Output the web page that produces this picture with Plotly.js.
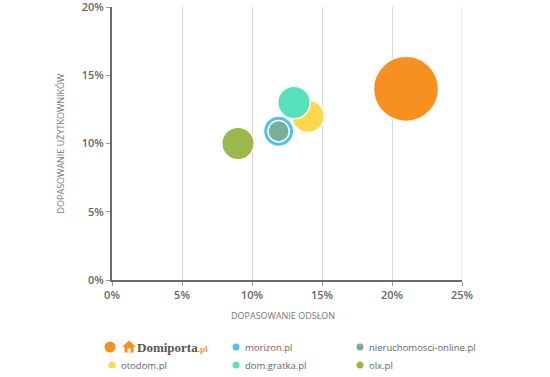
<!DOCTYPE html>
<html>
<head>
<meta charset="utf-8">
<script src="https://cdn.plot.ly/plotly-3.0.1.min.js"></script>
<style>html,body{margin:0;padding:0;background:#fff;}#chart{width:550px;height:377px;}</style>
</head>
<body>
<div id="chart"></div>
<script>
// ---- data ----
const sites = ['Domiporta.pl', 'morizon.pl', 'nieruchomosci-online.pl', 'otodom.pl', 'dom.gratka.pl', 'olx.pl'];
const dopasowanieOdslon = [21, 11.9, 11.9, 14, 13, 9];          // x, %
const dopasowanieUzytkownikow = [14, 10.9, 10.9, 12, 13, 10];   // y, %
const wielkosc = [4, 0.87, 0.43, 1, 1, 1];                      // relative bubble size
const xTicks = [0, 5, 10, 15, 20, 25];
const yTicks = [0, 5, 10, 15, 20];
const tickText = v => v + '%';

// ---- styles ----
const colors = ['#F7901E', '#4FC3F0', '#7AAE9A', '#FCD84A', '#58E0BA', '#9AB84B'];
const drawOrder = [0, 3, 4, 5, 1, 2];

const W = 550, H = 377;
const M = {l: 112, r: 88, t: 7, b: 97};
const PW = W - M.l - M.r, PH = H - M.t - M.b;
const px = x => (x - M.l) / PW;
const py = y => (H - M.b - y) / PH;

const traces = drawOrder.map(i => ({
  type: 'scatter',
  mode: 'markers',
  name: sites[i],
  x: [dopasowanieOdslon[i]],
  y: [dopasowanieUzytkownikow[i]],
  marker: {
    color: colors[i],
    size: [wielkosc[i]],
    sizemode: 'area',
    sizeref: 1 / 529,
    line: {color: '#ffffff', width: 1.5},
    opacity: 1
  },
  hoverinfo: 'name+x+y',
  showlegend: false
}));

// ---- manual legend ----
const shapes = [];
const annotations = [];
const colX = [112, 236, 360];
const rowY = [347, 365];

// last gridline at the right edge of the plot
shapes.push({type: 'line', xref: 'x', yref: 'paper', x0: xTicks[xTicks.length - 1], x1: xTicks[xTicks.length - 1],
  y0: 0, y1: 1, line: {color: '#d6d6d6', width: 1}, layer: 'below'});

sites.forEach((s, i) => {
  const c = i % 3, r = Math.floor(i / 3);
  const cx = colX[c] - (i === 0 ? 2 : 0), cy = rowY[r];
  const rad = i === 0 ? 5.5 : 3.5;
  shapes.push({type: 'circle', xref: 'paper', yref: 'paper',
    x0: px(cx - rad), x1: px(cx + rad), y0: py(cy + rad), y1: py(cy - rad),
    fillcolor: colors[i], line: {width: 0}});
  if (i === 0) {
    // house icon
    const hx = 122, hy = 340;
    const p = (a, b) => px(hx + a) + ',' + py(hy + b);
    shapes.push({type: 'path', xref: 'paper', yref: 'paper',
      path: 'M' + p(0, 7) + ' L' + p(7, 0.5) + ' L' + p(14, 7) + ' L' + p(11.5, 7) + ' L' + p(11.5, 12.5) +
            ' L' + p(2.5, 12.5) + ' L' + p(2.5, 7) + ' Z',
      fillcolor: colors[0], line: {width: 0}});
    shapes.push({type: 'rect', xref: 'paper', yref: 'paper',
      x0: px(hx + 5.5), x1: px(hx + 8.5), y0: py(hy + 12.5), y1: py(hy + 8.5),
      fillcolor: '#ffffff', line: {width: 0}});
    annotations.push({xref: 'paper', yref: 'paper', x: px(135), y: py(cy), xanchor: 'left', yanchor: 'middle',
      showarrow: false,
      text: 'Domiporta<span style="color:#F7901E;font-size:9px">.pl</span>',
      font: {family: 'Liberation Serif', size: 13, color: '#555555', weight: 'bold'}});
  } else {
    annotations.push({xref: 'paper', yref: 'paper', x: px(cx + 7), y: py(cy), xanchor: 'left', yanchor: 'middle',
      showarrow: false, text: s,
      font: {family: 'Open Sans', size: 9.5, color: '#666666'}});
  }
});

// y axis title
annotations.push({xref: 'paper', yref: 'paper', x: px(60), y: 0.5, xanchor: 'center', yanchor: 'middle',
  showarrow: false, textangle: -90, text: 'DOPASOWANIE UŻYTKOWNIKÓW',
  font: {family: 'Open Sans', size: 9, color: '#777777'}});
// x axis title
annotations.push({xref: 'paper', yref: 'paper', x: px(283), y: py(315), xanchor: 'center', yanchor: 'middle',
  showarrow: false, text: 'DOPASOWANIE ODSŁON',
  font: {family: 'Open Sans', size: 9, color: '#777777'}});

const axisCommon = {
  zeroline: false,
  showline: true, linecolor: '#6b6b6b', linewidth: 2,
  ticks: 'outside', ticklen: 4, tickcolor: '#999999', tickwidth: 1,
  tickfont: {family: 'Open Sans', size: 11, color: '#666666', weight: 600},
  ticklabeloverflow: 'allow',
  fixedrange: true
};

const layout = {
  width: W, height: H,
  margin: M,
  paper_bgcolor: '#ffffff', plot_bgcolor: '#ffffff',
  showlegend: false,
  xaxis: Object.assign({}, axisCommon, {
    range: [0, 25], tickvals: xTicks, ticktext: xTicks.map(tickText),
    showgrid: true, gridcolor: '#d6d6d6', gridwidth: 1
  }),
  yaxis: Object.assign({}, axisCommon, {
    range: [0, 20], tickvals: yTicks, ticktext: yTicks.map(tickText),
    showgrid: false
  }),
  shapes: shapes,
  annotations: annotations
};

Plotly.newPlot('chart', traces, layout, {displayModeBar: false, staticPlot: true});
</script>
</body>
</html>
